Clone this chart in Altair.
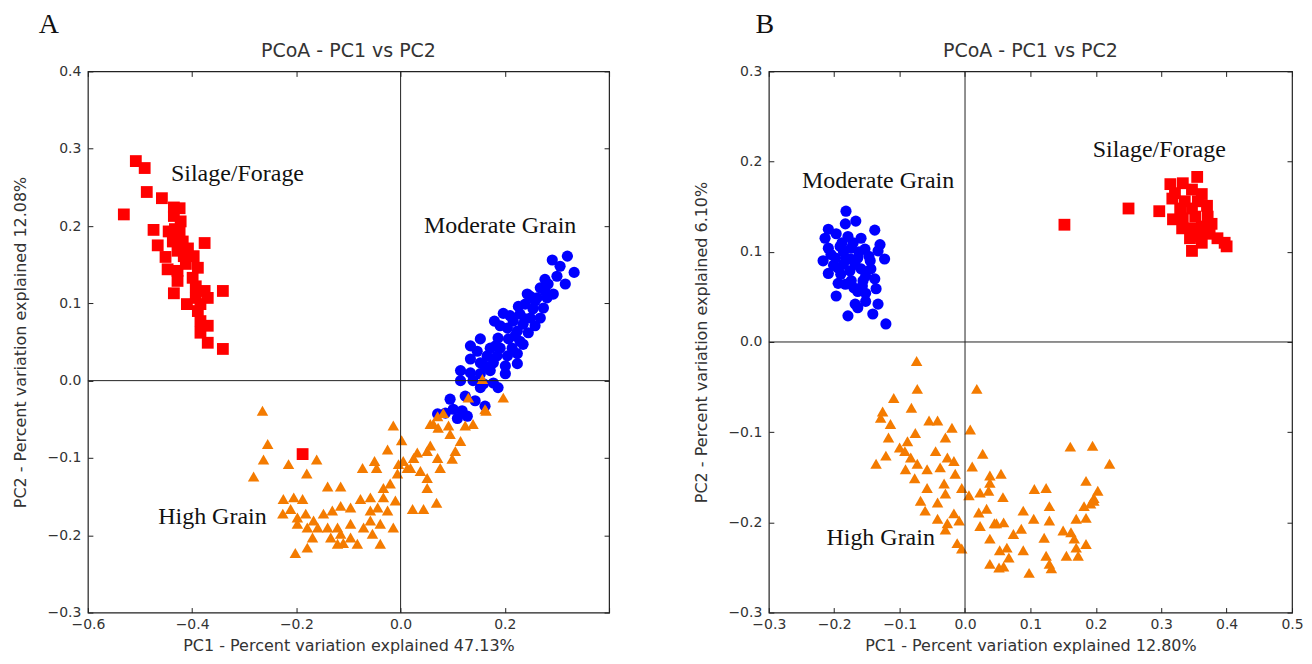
import altair as alt
import pandas as pd

# ---------------- Panel A data ----------------
a_silage_pc1 = [-0.508, -0.491, -0.487, -0.531, -0.458, -0.435, -0.424, -0.435, -0.474, -0.466,
                -0.433, -0.424, -0.437, -0.418, -0.376, -0.451, -0.428, -0.416, -0.397, -0.447,
                -0.428, -0.412, -0.389, -0.428, -0.435, -0.393, -0.376, -0.341, -0.410, -0.393,
                -0.370, -0.389, -0.384, -0.370, -0.384, -0.370, -0.341, -0.422, -0.445, -0.408,
                -0.399, -0.384, -0.188]
a_silage_pc2 = [0.284, 0.275, 0.244, 0.215, 0.236, 0.224, 0.223, 0.213, 0.195, 0.175,
                0.196, 0.193, 0.180, 0.180, 0.178, 0.160, 0.168, 0.161, 0.161, 0.144,
                0.142, 0.151, 0.146, 0.129, 0.113, 0.122, 0.116, 0.116, 0.099, 0.107,
                0.107, 0.090, 0.077, 0.071, 0.062, 0.049, 0.041, 0.206, 0.193, 0.171,
                0.133, 0.099, -0.095]

a_moderate_pc1 = [0.291, 0.320, 0.333, 0.277, 0.300, 0.316, 0.243, 0.262, 0.281, 0.293,
                  0.239, 0.254, 0.274, 0.229, 0.249, 0.268, 0.216, 0.235, 0.258, 0.205,
                  0.224, 0.245, 0.153, 0.187, 0.207, 0.229, 0.172, 0.191, 0.214, 0.235,
                  0.147, 0.166, 0.185, 0.205, 0.224, 0.134, 0.153, 0.178, 0.201, 0.224,
                  0.115, 0.134, 0.153, 0.172, 0.201, 0.139, 0.159, 0.178, 0.153, 0.187,
                  0.071, 0.101, 0.118, 0.128, 0.109, 0.162, 0.086, 0.277, 0.258, 0.210,
                  0.191, 0.220, 0.182, 0.162, 0.306, 0.283, 0.268, 0.249, 0.226, 0.197,
                  0.180, 0.239, 0.134, 0.115, 0.095, 0.124, 0.143]
a_moderate_pc2 = [0.156, 0.161, 0.140, 0.131, 0.135, 0.125, 0.112, 0.107, 0.107, 0.112,
                  0.099, 0.093, 0.094, 0.086, 0.081, 0.081, 0.077, 0.073, 0.071, 0.068,
                  0.064, 0.062, 0.054, 0.055, 0.054, 0.051, 0.042, 0.042, 0.042, 0.047,
                  0.038, 0.032, 0.032, 0.032, 0.035, 0.028, 0.023, 0.023, 0.019, 0.022,
                  0.013, 0.010, 0.009, 0.013, 0.009, 0.000, -0.004, -0.003, -0.009, -0.009,
                  -0.043, -0.037, -0.039, -0.046, -0.049, -0.033, -0.042, 0.116, 0.103, 0.084,
                  0.071, 0.058, 0.045, 0.019, 0.148, 0.125, 0.120, 0.109, 0.096, 0.087,
                  0.077, 0.080, 0.045, 0.000, -0.024, -0.020, -0.026]

a_high_pc1 = [-0.265, -0.255, -0.263, -0.282, -0.215, -0.161, -0.180, -0.014, 0.002, -0.025,
              -0.073, -0.050, -0.046, -0.140, -0.115, -0.225, -0.205, -0.188, -0.226, -0.211,
              -0.198, -0.182, -0.167, -0.148, -0.131, -0.115, -0.096, -0.077, -0.058, -0.033,
              -0.020, -0.010, -0.044, -0.025, -0.058, -0.039, -0.014, -0.071, -0.096, -0.121,
              -0.140, -0.159, -0.179, -0.198, -0.134, -0.115, -0.096, -0.169, -0.121, -0.110,
              -0.179, -0.202, -0.039, -0.054, -0.083, 0.023, 0.044, 0.069, 0.051, 0.051,
              0.038, 0.019, 0.005, 0.025, 0.051, 0.071, 0.076, 0.099, 0.105, 0.115,
              0.095, 0.072, 0.057, 0.071, 0.082, 0.124, 0.139, 0.130, 0.162, 0.197,
              0.057, 0.032, 0.013, -0.006, -0.033, -0.058, -0.004, 0.157, 0.164, 0.092,
              0.063]
a_high_pc2 = [-0.039, -0.082, -0.102, -0.124, -0.108, -0.102, -0.120, -0.058, -0.077, -0.089,
              -0.113, -0.104, -0.113, -0.137, -0.137, -0.153, -0.151, -0.153, -0.172, -0.166,
              -0.177, -0.172, -0.181, -0.172, -0.168, -0.162, -0.164, -0.153, -0.151, -0.139,
              -0.133, -0.155, -0.164, -0.168, -0.181, -0.185, -0.190, -0.190, -0.185, -0.190,
              -0.190, -0.190, -0.190, -0.185, -0.203, -0.198, -0.203, -0.203, -0.211, -0.210,
              -0.216, -0.223, -0.211, -0.198, -0.211, -0.166, -0.166, -0.158, -0.139, -0.126,
              -0.117, -0.113, -0.104, -0.100, -0.091, -0.100, -0.113, -0.101, -0.091, -0.078,
              -0.069, -0.061, -0.056, -0.046, -0.042, -0.058, -0.056, -0.022, -0.037, -0.022,
              -0.084, -0.093, -0.113, -0.120, -0.151, -0.168, -0.108, 0.002, -0.039, -0.058,
              -0.056]

# ---------------- Panel B data ----------------
b_moderate_pc1 = [-0.182, -0.183, -0.167, -0.209, -0.138, -0.214, -0.197, -0.179, -0.159, -0.130,
                  -0.209, -0.191, -0.174, -0.153, -0.133, -0.123, -0.217, -0.198, -0.182, -0.164,
                  -0.145, -0.209, -0.194, -0.176, -0.159, -0.144, -0.194, -0.174, -0.156, -0.138,
                  -0.197, -0.164, -0.152, -0.136, -0.168, -0.152, -0.133, -0.179, -0.164, -0.141,
                  -0.121, -0.183, -0.205, -0.168, -0.186, -0.152, -0.188, -0.171, -0.201, -0.162,
                  -0.190, -0.175, -0.186, -0.170, -0.157, -0.147]
b_moderate_pc2 = [0.145, 0.131, 0.134, 0.125, 0.124, 0.115, 0.120, 0.117, 0.115, 0.108,
                  0.104, 0.106, 0.104, 0.103, 0.101, 0.092, 0.090, 0.093, 0.093, 0.093,
                  0.090, 0.076, 0.082, 0.079, 0.081, 0.081, 0.065, 0.068, 0.068, 0.070,
                  0.051, 0.056, 0.054, 0.059, 0.042, 0.045, 0.042, 0.029, 0.038, 0.031,
                  0.020, 0.064, 0.097, 0.086, 0.086, 0.073, 0.110, 0.110, 0.085, 0.100,
                  0.075, 0.092, 0.100, 0.060, 0.062, 0.095]

b_silage_pc1 = [0.250, 0.152, 0.297, 0.355, 0.314, 0.333, 0.321, 0.347, 0.362, 0.317,
                0.336, 0.356, 0.370, 0.318, 0.333, 0.352, 0.371, 0.332, 0.347, 0.362,
                0.377, 0.344, 0.359, 0.374, 0.386, 0.347, 0.362, 0.397, 0.400, 0.347,
                0.329]
b_silage_pc2 = [0.148, 0.130, 0.145, 0.183, 0.175, 0.176, 0.165, 0.169, 0.164, 0.159,
                0.156, 0.156, 0.151, 0.136, 0.137, 0.139, 0.139, 0.126, 0.126, 0.128,
                0.131, 0.115, 0.117, 0.120, 0.115, 0.101, 0.110, 0.110, 0.106, 0.148,
                0.148]

b_high_pc1 = [-0.074, -0.073, 0.018, -0.109, -0.082, -0.126, -0.129, -0.114, -0.055, -0.042,
              -0.020, -0.030, 0.008, -0.076, -0.117, -0.100, -0.088, -0.092, -0.045, 0.027,
              -0.121, -0.136, -0.083, -0.073, -0.027, -0.017, -0.038, -0.058, -0.091, 0.011,
              -0.015, -0.077, -0.058, -0.032, -0.030, -0.005, 0.038, 0.055, 0.038, 0.006,
              0.023, 0.036, -0.068, -0.042, -0.061, -0.042, -0.017, -0.027, -0.009, -0.030,
              0.021, 0.033, 0.023, 0.038, 0.058, 0.045, 0.059, 0.089, 0.105, 0.074,
              0.086, 0.106, 0.124, 0.129, 0.129, 0.121, 0.064, 0.067, 0.089, 0.038,
              0.052, 0.059, 0.098, 0.124, 0.129, 0.132, 0.150, 0.162, 0.167, 0.155,
              0.170, 0.173, 0.185, 0.170, 0.185, 0.182, 0.192, 0.197, 0.203, 0.185,
              0.197, 0.161, 0.195, 0.221, -0.012, -0.005, 0.053, 0.048]
b_high_pc2 = [-0.021, -0.052, -0.052, -0.062, -0.073, -0.077, -0.084, -0.091, -0.087, -0.087,
              -0.095, -0.106, -0.097, -0.101, -0.106, -0.117, -0.110, -0.121, -0.121, -0.124,
              -0.126, -0.135, -0.128, -0.135, -0.128, -0.132, -0.139, -0.141, -0.141, -0.138,
              -0.146, -0.151, -0.162, -0.157, -0.168, -0.162, -0.148, -0.146, -0.156, -0.170,
              -0.167, -0.165, -0.176, -0.178, -0.187, -0.196, -0.190, -0.201, -0.198, -0.208,
              -0.189, -0.185, -0.204, -0.218, -0.172, -0.201, -0.200, -0.187, -0.196, -0.213,
              -0.207, -0.163, -0.162, -0.182, -0.198, -0.217, -0.228, -0.239, -0.231, -0.246,
              -0.250, -0.249, -0.256, -0.237, -0.246, -0.251, -0.209, -0.211, -0.218, -0.237,
              -0.228, -0.237, -0.224, -0.196, -0.195, -0.182, -0.179, -0.173, -0.165, -0.154,
              -0.176, -0.116, -0.115, -0.135, -0.223, -0.229, -0.231, -0.201]

# ---------------- annotations ----------------
ann_labels = ["Silage/Forage", "Moderate Grain", "High Grain"]
a_ann_pc1 = [-0.313, 0.191, -0.361]
a_ann_pc2 = [0.267, 0.200, -0.177]
b_ann_pc1 = [0.297, -0.133, -0.129]
b_ann_pc2 = [0.2125, 0.179, -0.217]
panel_title = "PCoA - PC1 vs PC2"

a_xticks = [-0.6, -0.4, -0.2, 0.0, 0.2, 0.4]
a_yticks = [-0.3, -0.2, -0.1, 0.0, 0.1, 0.2, 0.3, 0.4]
b_xticks = [-0.3, -0.2, -0.1, 0.0, 0.1, 0.2, 0.3, 0.4, 0.5]
b_yticks = [-0.3, -0.2, -0.1, 0.0, 0.1, 0.2, 0.3]

GROUPS = ["Moderate Grain", "High Grain", "Silage/Forage"]
COLORS = ["#0000ff", "#f47b00", "#ff0000"]
SHAPES = ["circle", "triangle-up", "square"]
SIZES = [125, 140, 110]

SANS = "DejaVu Sans"
SERIF = "Liberation Serif"


def build_df(parts):
    rows = []
    for g, xs, ys in parts:
        for x, y in zip(xs, ys):
            rows.append({"group": g, "pc1": x, "pc2": y})
    return pd.DataFrame(rows)


def panel(df, ann_x, ann_y, xdom, ydom, xticks, yticks, xtitle, ytitle,
          letter, letter_x, w, h, hide_last_x):
    xscale = alt.Scale(domain=xdom, nice=False, zero=False)
    yscale = alt.Scale(domain=ydom, nice=False, zero=False)
    xkw = dict(values=xticks, format=".1f", title=xtitle, orient="bottom",
               offset=-5, tickSize=5, labelPadding=5, titlePadding=6,
               domain=False, grid=False, labelFlush=False)
    if hide_last_x:
        xkw["labelExpr"] = "datum.value > 0.35 ? '' : datum.label"
    xaxis = alt.Axis(**xkw)
    yaxis = alt.Axis(values=yticks, format=".1f", title=ytitle, orient="left",
                     offset=-5, tickSize=5, labelPadding=7, titlePadding=18,
                     domain=False, grid=False, labelFlush=False)
    top_axis = alt.Axis(values=xticks, orient="top", labels=False, title=None,
                        offset=-5, tickSize=5, domain=False, grid=False)
    right_axis = alt.Axis(values=yticks, orient="right", labels=False, title=None,
                          offset=-5, tickSize=5, domain=False, grid=False)

    points = alt.Chart(df).mark_point(filled=True, opacity=1, strokeWidth=0).encode(
        x=alt.X("pc1:Q", scale=xscale, axis=xaxis),
        y=alt.Y("pc2:Q", scale=yscale, axis=yaxis),
        color=alt.Color("group:N", scale=alt.Scale(domain=GROUPS, range=COLORS), legend=None),
        shape=alt.Shape("group:N", scale=alt.Scale(domain=GROUPS, range=SHAPES), legend=None),
        size=alt.Size("group:N", scale=alt.Scale(domain=GROUPS, range=SIZES), legend=None),
    )
    zero = pd.DataFrame({"pc1": [0.0], "pc2": [0.0]})
    vrule = alt.Chart(zero).mark_rule(color="#222222", strokeWidth=1).encode(
        x=alt.X("pc1:Q", scale=xscale, axis=top_axis))
    hrule = alt.Chart(zero).mark_rule(color="#222222", strokeWidth=1).encode(
        y=alt.Y("pc2:Q", scale=yscale, axis=right_axis))
    ann = pd.DataFrame({"label": ann_labels, "pc1": ann_x, "pc2": ann_y})
    texts = alt.Chart(ann).mark_text(font=SERIF, fontSize=24, color="#111111",
                                     align="center", baseline="middle").encode(
        x=alt.X("pc1:Q", scale=xscale, axis=None),
        y=alt.Y("pc2:Q", scale=yscale, axis=None),
        text="label:N")
    let = alt.Chart(pd.DataFrame({"t": [letter]})).mark_text(
        font=SERIF, fontSize=28, color="#111111", align="center", baseline="middle").encode(
        x=alt.value(letter_x), y=alt.value(-46), text="t:N")
    ttl = alt.Chart(pd.DataFrame({"t": [panel_title]})).mark_text(
        font=SANS, fontSize=19, color="#333333", align="center", baseline="middle").encode(
        x=alt.value(w / 2), y=alt.value(-20), text="t:N")
    return alt.layer(points, vrule, hrule, texts, let, ttl).properties(width=w, height=h)


dfA = build_df([("Moderate Grain", a_moderate_pc1, a_moderate_pc2),
                ("High Grain", a_high_pc1, a_high_pc2),
                ("Silage/Forage", a_silage_pc1, a_silage_pc2)])
dfB = build_df([("Moderate Grain", b_moderate_pc1, b_moderate_pc2),
                ("High Grain", b_high_pc1, b_high_pc2),
                ("Silage/Forage", b_silage_pc1, b_silage_pc2)])

pA = panel(dfA, a_ann_pc1, a_ann_pc2, [-0.6, 0.4], [-0.3, 0.4], a_xticks, a_yticks,
           "PC1 - Percent variation explained 47.13%",
           "PC2 - Percent variation explained 12.08%", "A", -39, 522, 542, True)
pB = panel(dfB, b_ann_pc1, b_ann_pc2, [-0.3, 0.5], [-0.3, 0.3], b_xticks, b_yticks,
           "PC1 - Percent variation explained 12.80%",
           "PC2 - Percent variation explained 6.10%", "B", -4, 524, 542, False)

chart = alt.hconcat(pA, pB, spacing=82).properties(
    padding={"left": 4, "top": 2, "right": 0, "bottom": 0}
).configure_view(
    stroke="#222222", strokeWidth=1.2
).configure_axis(
    labelFont=SANS, labelFontSize=14, labelColor="#333333",
    titleFont=SANS, titleFontSize=16, titleColor="#333333", titleFontWeight="normal",
    tickColor="#222222", tickWidth=1
)

chart.save("out.html", embed_options={"renderer": "svg", "actions": False})
